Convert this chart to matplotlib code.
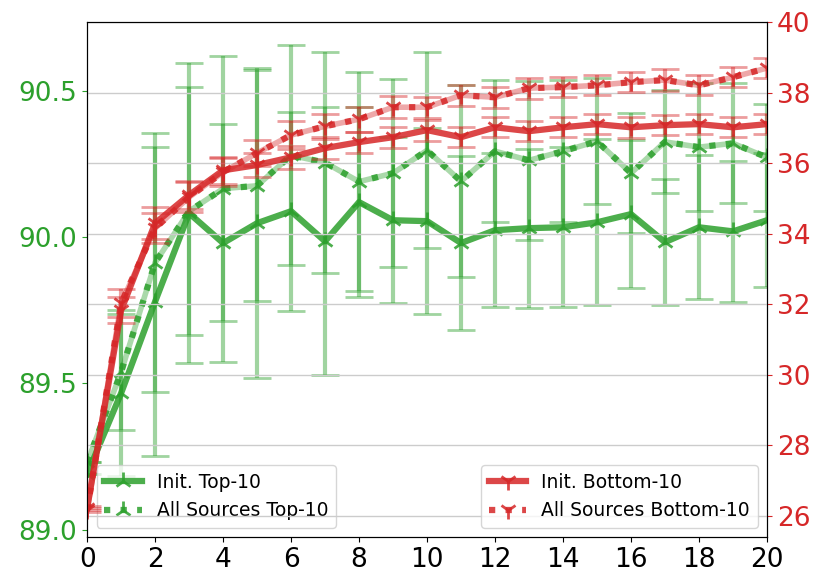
import numpy as np
import matplotlib
matplotlib.use("Agg")
import matplotlib.pyplot as plt

steps = np.arange(0, 21)

# left axis (green)
init_top = [89.19, 89.467, 89.78, 90.082, 89.98, 90.048, 90.089, 89.986, 90.12, 90.058, 90.055,
            89.98, 90.024, 90.031, 90.034, 90.051, 90.079, 89.983, 90.034, 90.02, 90.058]
init_top_err = [0.0, 0.284, 0.528, 0.513, 0.408, 0.53, 0.34, 0.458, 0.325, 0.284, 0.318,
                0.296, 0.263, 0.272, 0.273, 0.284, 0.253, 0.215, 0.246, 0.241, 0.229]
all_top = [89.23, 89.539, 89.913, 90.089, 90.166, 90.176, 90.28, 90.255, 90.19, 90.219, 90.297,
           90.191, 90.294, 90.263, 90.294, 90.328, 90.219, 90.326, 90.308, 90.321, 90.273]
all_top_err = [0.0, 0.198, 0.443, 0.425, 0.453, 0.395, 0.376, 0.378, 0.374, 0.321, 0.335,
               0.328, 0.243, 0.272, 0.243, 0.215, 0.205, 0.176, 0.219, 0.205, 0.183]

# right axis (red)
init_bot = [26.22, 31.83, 34.30, 35.10, 35.80, 35.95, 36.17, 36.43, 36.60, 36.74, 36.94,
            36.74, 37.02, 36.91, 37.02, 37.11, 37.02, 37.08, 37.11, 37.02, 37.11]
init_bot_err = [0.05, 0.37, 0.45, 0.4, 0.38, 0.35, 0.33, 0.32, 0.3, 0.3, 0.3,
                0.28, 0.28, 0.28, 0.28, 0.28, 0.3, 0.28, 0.28, 0.28, 0.28]
all_bot = [26.16, 32.03, 34.16, 35.04, 35.75, 36.29, 36.80, 37.05, 37.25, 37.59, 37.59,
           37.93, 37.87, 38.13, 38.16, 38.21, 38.30, 38.36, 38.21, 38.44, 38.70]
all_bot_err = [0.05, 0.4, 0.42, 0.42, 0.4, 0.38, 0.4, 0.36, 0.35, 0.32, 0.3,
               0.3, 0.3, 0.3, 0.28, 0.28, 0.28, 0.3, 0.28, 0.28, 0.28]

green = '#2ca02c'
red = '#d62728'

fig = plt.figure(figsize=(8.3, 5.85), dpi=100)
ax = fig.add_axes([0.105, 0.082, 0.819, 0.880])
ax2 = ax.twinx()

eb = dict(fmt='none', alpha=0.45, elinewidth=3, capsize=10, capthick=2)

def draw(a, y, err, color, dotted, marker, label):
    a.errorbar(steps, y, yerr=err, ecolor=color, **eb)
    if dotted:
        a.plot(steps, y, '-', color=color, lw=4, alpha=0.4)
        a.plot(steps, y, ':', color=color, lw=4.5, alpha=0.85,
               marker=marker, ms=13, mew=2, label=label)
    else:
        a.plot(steps, y, '-', color=color, lw=4.5, alpha=0.85,
               marker=marker, ms=13, mew=2, label=label)

draw(ax, init_top, init_top_err, green, False, '2', 'Init. Top-10')
draw(ax, all_top, all_top_err, green, True, '2', 'All Sources Top-10')
draw(ax2, init_bot, init_bot_err, red, False, '1', 'Init. Bottom-10')
draw(ax2, all_bot, all_bot_err, red, True, '1', 'All Sources Bottom-10')

ax.set_xlim(0, 20)
ax.set_xticks(range(0, 21, 2))
ax.set_ylim(88.975, 90.735)
ax.set_yticks([89.0, 89.5, 90.0, 90.5])
ax.set_yticklabels(['89.0', '89.5', '90.0', '90.5'])
ax2.set_ylim(25.4, 40)
ax2.set_yticks(range(26, 41, 2))

ax.tick_params(axis='x', labelsize=19)
ax.tick_params(axis='y', labelsize=19, colors=green)
ax2.tick_params(axis='y', labelsize=19, colors=red)
ax2.grid(axis='y', color='#cccccc', lw=1)

ax.legend(loc='lower left', fontsize=13.5, handlelength=2.0, framealpha=0.8)
ax2.legend(loc='lower right', fontsize=13.5, handlelength=2.0, framealpha=0.8)

fig.savefig('out.png', dpi=100)
